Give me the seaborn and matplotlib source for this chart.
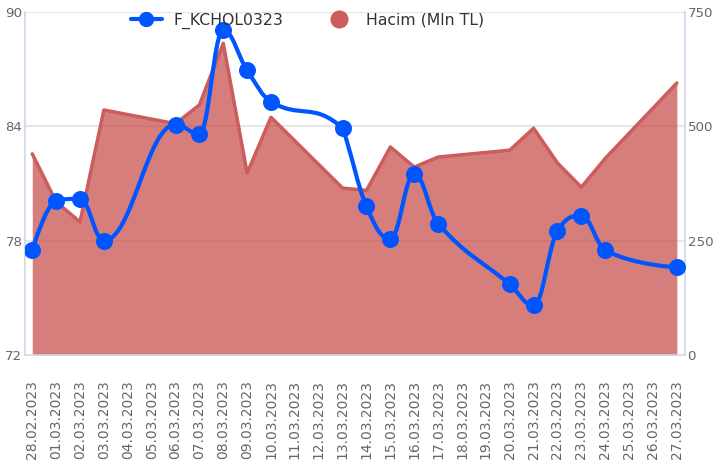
import numpy as np
import pandas as pd
import matplotlib
matplotlib.use("Agg")
import matplotlib.pyplot as plt
import matplotlib.dates as mdates
from matplotlib.path import Path
from matplotlib.patches import PathPatch
from matplotlib.lines import Line2D
import seaborn as sns

# ---- data ----
trade_dates = ["28.02.2023", "01.03.2023", "02.03.2023", "03.03.2023", "06.03.2023",
               "07.03.2023", "08.03.2023", "09.03.2023", "10.03.2023", "13.03.2023",
               "14.03.2023", "15.03.2023", "16.03.2023", "17.03.2023", "20.03.2023",
               "21.03.2023", "22.03.2023", "23.03.2023", "24.03.2023", "27.03.2023"]
price = [77.5, 80.1, 80.2, 78.0, 84.1, 83.6, 89.05, 86.95, 85.3, 83.9,
         79.8, 78.1, 81.5, 78.9, 75.7, 74.6, 78.5, 79.3, 77.5, 76.6]
volume = [440, 335, 291, 536, 506, 547, 682, 398, 520, 365,
          360, 455, 411, 433, 448, 496, 420, 367, 430, 595]
tick_labels = [d.strftime("%d.%m.%Y") for d in pd.date_range("2023-02-28", "2023-03-27")]
line_name = "F_KCHOL0323"
area_name = "Hacim (Mln TL)"

df = pd.DataFrame({"date": pd.to_datetime(trade_dates, format="%d.%m.%Y"),
                   "price": price, "volume": volume})
df["x"] = mdates.date2num(df["date"])

BLUE = "#0055FF"
RED = "#CD5C5C"
FILL = "#D67E7C"
AXC = "#CCD6EB"
GRID = "#E6E6E6"
TXT = "#666666"

sns.set_theme(style="white")
plt.rcParams["font.family"] = ["DejaVu Sans"]

fig = plt.figure(figsize=(7.17, 4.70), dpi=100)
ax2 = fig.add_axes([0.035, 0.245, 0.92, 0.729])  # volume (right axis) drawn behind
ax = ax2.twinx()
ax.yaxis.tick_left()
ax.yaxis.set_label_position("left")
ax2.yaxis.tick_right()
ax2.yaxis.set_label_position("right")

# gridlines (behind the area)
for v in [250, 500, 750]:
    ax2.axhline(v, color=GRID, lw=1.5, zorder=0.5)

# area
area = ax2.fill_between(df["x"], 0, df["volume"], color=FILL, lw=0, zorder=1)
for v in [250, 500]:
    gl = ax2.axhline(v, color="#C06462", lw=1.3, alpha=0.35, zorder=1.5)
    gl.set_clip_path(area.get_paths()[0], area.get_transform())
sns.lineplot(data=df, x="x", y="volume", ax=ax2, color=RED, lw=2.5, zorder=2, legend=False)

# spline path (Highcharts-style bezier through data points)
xs = df["x"].to_numpy(float)
ys = df["price"].to_numpy(float)
sm, den = 1.5, 2.5
n = len(xs)
lc = [None] * n
rc = [None] * n
for i in range(1, n - 1):
    lx = (sm * xs[i] + xs[i - 1]) / den
    ly = (sm * ys[i] + ys[i - 1]) / den
    rx = (sm * xs[i] + xs[i + 1]) / den
    ry = (sm * ys[i] + ys[i + 1]) / den
    if rx != lx:
        corr = (ry - ly) * (rx - xs[i]) / (rx - lx) + ys[i] - ry
        ly += corr
        ry += corr
    if ly > max(ys[i - 1], ys[i]):
        ly = max(ys[i - 1], ys[i]); ry = 2 * ys[i] - ly
    elif ly < min(ys[i - 1], ys[i]):
        ly = min(ys[i - 1], ys[i]); ry = 2 * ys[i] - ly
    if ry > max(ys[i + 1], ys[i]):
        ry = max(ys[i + 1], ys[i]); ly = 2 * ys[i] - ry
    elif ry < min(ys[i + 1], ys[i]):
        ry = min(ys[i + 1], ys[i]); ly = 2 * ys[i] - ry
    lc[i] = (lx, ly)
    rc[i] = (rx, ry)
verts = [(xs[0], ys[0])]
codes = [Path.MOVETO]
for i in range(1, n):
    c1 = rc[i - 1] if rc[i - 1] is not None else (xs[i - 1], ys[i - 1])
    c2 = lc[i] if lc[i] is not None else (xs[i], ys[i])
    verts += [c1, c2, (xs[i], ys[i])]
    codes += [Path.CURVE4] * 3
ax.add_patch(PathPatch(Path(verts, codes), fc="none", ec=BLUE, lw=3, zorder=3,
                       capstyle="round", joinstyle="round"))
sns.scatterplot(data=df, x="x", y="price", ax=ax, color=BLUE, s=150, linewidth=0,
                zorder=4, legend=False)

# axes limits / ticks
all_x = mdates.date2num(pd.to_datetime(tick_labels, format="%d.%m.%Y"))
ax.set_xlim(all_x[0] - 0.3, all_x[-1] + 0.33)
ax2.set_xlim(all_x[0] - 0.3, all_x[-1] + 0.33)
ax.set_ylim(72, 90)
ax.set_yticks([72, 78, 84, 90])
ax2.set_ylim(0, 750)
ax2.set_yticks([0, 250, 500, 750])
ax2.set_xticks(all_x)
ax2.set_xticklabels(tick_labels, rotation=90)
ax.set_xlabel(""); ax.set_ylabel(""); ax2.set_xlabel(""); ax2.set_ylabel("")

for a in (ax, ax2):
    for s in a.spines.values():
        s.set_visible(False)
    a.tick_params(axis="y", length=0, labelsize=9.6, labelcolor=TXT, pad=2)
ax2.tick_params(axis="x", length=13, width=1, color=AXC, labelsize=10,
                labelcolor=TXT, pad=5, direction="out")
for sp in ("bottom", "left", "right"):
    ax2.spines[sp].set_visible(True)
    ax2.spines[sp].set_color(AXC)
    ax2.spines[sp].set_linewidth(1.2)

ax.set_zorder(ax2.get_zorder() + 1)
ax.patch.set_visible(False)

handles = [Line2D([], [], color=BLUE, lw=3, marker="o", ms=10),
           Line2D([], [], color=RED, lw=0, marker="o", ms=12)]
leg = ax.legend(handles, [line_name, area_name], loc="center",
                bbox_to_anchor=(0.428, 0.975), ncol=2, frameon=False, fontsize=11.3,
                handlelength=2.0, columnspacing=2.6, handletextpad=0.7,
                borderpad=0, borderaxespad=0)
for t in leg.get_texts():
    t.set_color("#333333")

fig.savefig("out.png", dpi=100)
